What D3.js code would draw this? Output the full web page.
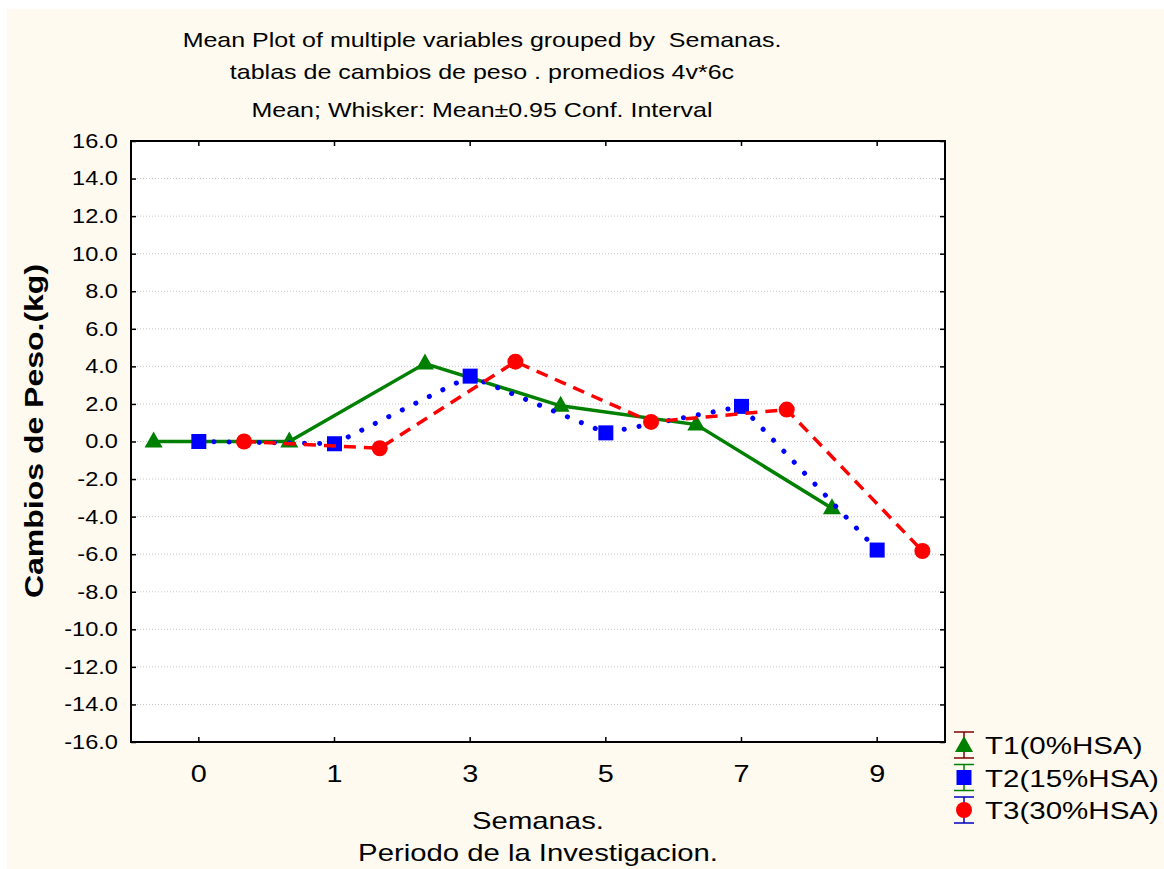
<!DOCTYPE html>
<html><head><meta charset="utf-8">
<script src="https://cdn.jsdelivr.net/npm/d3@7"></script>
<style>body{margin:0;background:#fff;}svg{display:block;font-family:"Liberation Sans",Arial,sans-serif;}</style>
</head><body>
<svg id="c" width="1164" height="869"></svg>
<script>
const categories = ["0","1","3","5","7","9"];
const seriesNames = ["T1(0%HSA)","T2(15%HSA)","T3(30%HSA)"];
const t1 = [0.0, 0.0, 4.15, 1.9, 0.9, -3.55];
const t2 = [0.0, -0.12, 3.48, 0.46, 1.87, -5.78];
const t3 = [0.0, -0.36, 4.25, 1.04, 1.7, -5.83];
const yTicks = [-16,-14,-12,-10,-8,-6,-4,-2,0,2,4,6,8,10,12,14,16];
const titles = ["Mean Plot of multiple variables grouped by  Semanas.","tablas de cambios de peso . promedios 4v*6c","Mean; Whisker: Mean\u00b10.95 Conf. Interval"];

const WIDE = 1.2;
function stretch(sel, f){
  sel.each(function(){
    const w = this.getComputedTextLength();
    d3.select(this).attr("textLength", w*f).attr("lengthAdjust","spacingAndGlyphs");
  });
}

const svg = d3.select("#c");
svg.append("rect").attr("x",7).attr("y",9).attr("width",1157).attr("height",860).attr("fill","#fffaef");

const L=131, R=945, T=141, B=742;
const x = d3.scaleBand().domain(categories).range([L,R]);
const y = d3.scaleLinear().domain([-16,16]).range([B,T]);
const g = svg.append("g");
g.append("rect").attr("x",L).attr("y",T).attr("width",R-L).attr("height",B-T).attr("fill","#fff");

// grid
g.selectAll(".grid").data(yTicks.filter(d=>d>-16&&d<16)).join("line")
 .attr("x1",L).attr("x2",R).attr("y1",d=>y(d)).attr("y2",d=>y(d))
 .attr("stroke","#c8c8c8").attr("stroke-width",1).attr("stroke-dasharray","1,2");

// axes
const yAxisL = d3.axisLeft(y).tickValues(yTicks).tickSize(-5).tickPadding(13).tickFormat(d3.format(".1f"));
const gy = g.append("g").attr("transform",`translate(${L},0)`).call(yAxisL);
gy.select(".domain").remove();
gy.selectAll("text").attr("font-size",20).attr("fill","#000").text(d=>d3.format(".1f")(d).replace("\u2212","-"));
stretch(gy.selectAll("text"), 1.18);
const yAxisR = d3.axisRight(y).tickValues(yTicks).tickSize(-5).tickFormat("");
const gyr = g.append("g").attr("transform",`translate(${R},0)`).call(yAxisR);
gyr.select(".domain").remove();
const xAxisB = d3.axisBottom(x).tickSize(-5).tickPadding(23);
const gx = g.append("g").attr("transform",`translate(0,${B})`).call(xAxisB);
gx.select(".domain").remove();
gx.selectAll("text").attr("font-size",24).attr("fill","#000");
stretch(gx.selectAll("text"), WIDE);
const xAxisT = d3.axisTop(x).tickSize(-5).tickFormat("");
const gxt = g.append("g").attr("transform",`translate(0,${T})`).call(xAxisT);
gxt.select(".domain").remove();
svg.selectAll(".tick line").attr("stroke","#000").attr("stroke-width",1.5);
g.append("rect").attr("x",L).attr("y",T).attr("width",R-L).attr("height",B-T).attr("fill","none").attr("stroke","#000").attr("stroke-width",2);

// series
const bw = x.bandwidth();
const offsets = [-bw/3, 0, bw/3];
const series = [
 {vals:t1, color:"#008000", dash:null, width:3.5, sym:"tri"},
 {vals:t2, color:"#0000ff", dash:"0.1,15", width:5, sym:"sq", cap:"round"},
 {vals:t3, color:"#ff0000", dash:"12,8", width:3.5, sym:"circ"}
];
const line = d3.line();
series.forEach((s,i)=>{
  const pts = s.vals.map((v,j)=>[x(categories[j])+bw/2+offsets[i], y(v)]);
  const p = g.append("path").attr("d",line(pts)).attr("fill","none").attr("stroke",s.color).attr("stroke-width",s.width);
  if(s.dash) p.attr("stroke-dasharray",s.dash);
  if(s.cap) p.attr("stroke-linecap",s.cap);
  pts.forEach(pt=>drawSym(g,s.sym,pt[0],pt[1],s.color));
});
function drawSym(sel,sym,cx,cy,color){
  if(sym==="tri") sel.append("path").attr("d",`M${cx},${cy-10}L${cx+9},${cy+6}L${cx-9},${cy+6}Z`).attr("fill",color);
  else if(sym==="sq") sel.append("rect").attr("x",cx-7.5).attr("y",cy-7.5).attr("width",15).attr("height",15).attr("fill",color);
  else sel.append("circle").attr("cx",cx).attr("cy",cy).attr("r",8).attr("fill",color);
}

// titles
const tt = svg.selectAll(".title").data(titles).join("text")
 .attr("x",482).attr("y",(d,i)=>[47,79,117][i]).attr("text-anchor","middle").attr("font-size",21)
 .attr("fill","#000").style("white-space","pre").text(d=>d);
stretch(tt, 1.19);

// axis labels
const xl1 = svg.append("text").attr("x",538).attr("y",829).attr("text-anchor","middle").attr("font-size",24).text("Semanas.");
const xl2 = svg.append("text").attr("x",538).attr("y",861).attr("text-anchor","middle").attr("font-size",24).text("Periodo de la Investigacion.");
stretch(xl1, 1.22); stretch(xl2, 1.22);
const yl = svg.append("text").attr("transform","translate(43,431) rotate(-90)").attr("text-anchor","middle").attr("font-size",26).attr("font-weight","bold").text("Cambios de Peso.(kg)");
stretch(yl, 1.23);

// legend
const whiskerColors = ["#800000","#008000","#0000c0"];
const lg = svg.append("g");
seriesNames.forEach((n,i)=>{
  const cy = 745 + i*32.5, cx = 964;
  lg.append("line").attr("x1",cx).attr("x2",cx).attr("y1",cy-13).attr("y2",cy+13).attr("stroke",whiskerColors[i]).attr("stroke-width",1.5);
  lg.append("line").attr("x1",cx-10).attr("x2",cx+10).attr("y1",cy-13).attr("y2",cy-13).attr("stroke",whiskerColors[i]).attr("stroke-width",1.5);
  lg.append("line").attr("x1",cx-10).attr("x2",cx+10).attr("y1",cy+13).attr("y2",cy+13).attr("stroke",whiskerColors[i]).attr("stroke-width",1.5);
  drawSym(lg,series[i].sym,cx,cy+(i===0?1:0),series[i].color);
  const t = lg.append("text").attr("x",985).attr("y",cy+9).attr("font-size",24).text(n);
  stretch(t, 1.23);
});
</script>
</body></html>
